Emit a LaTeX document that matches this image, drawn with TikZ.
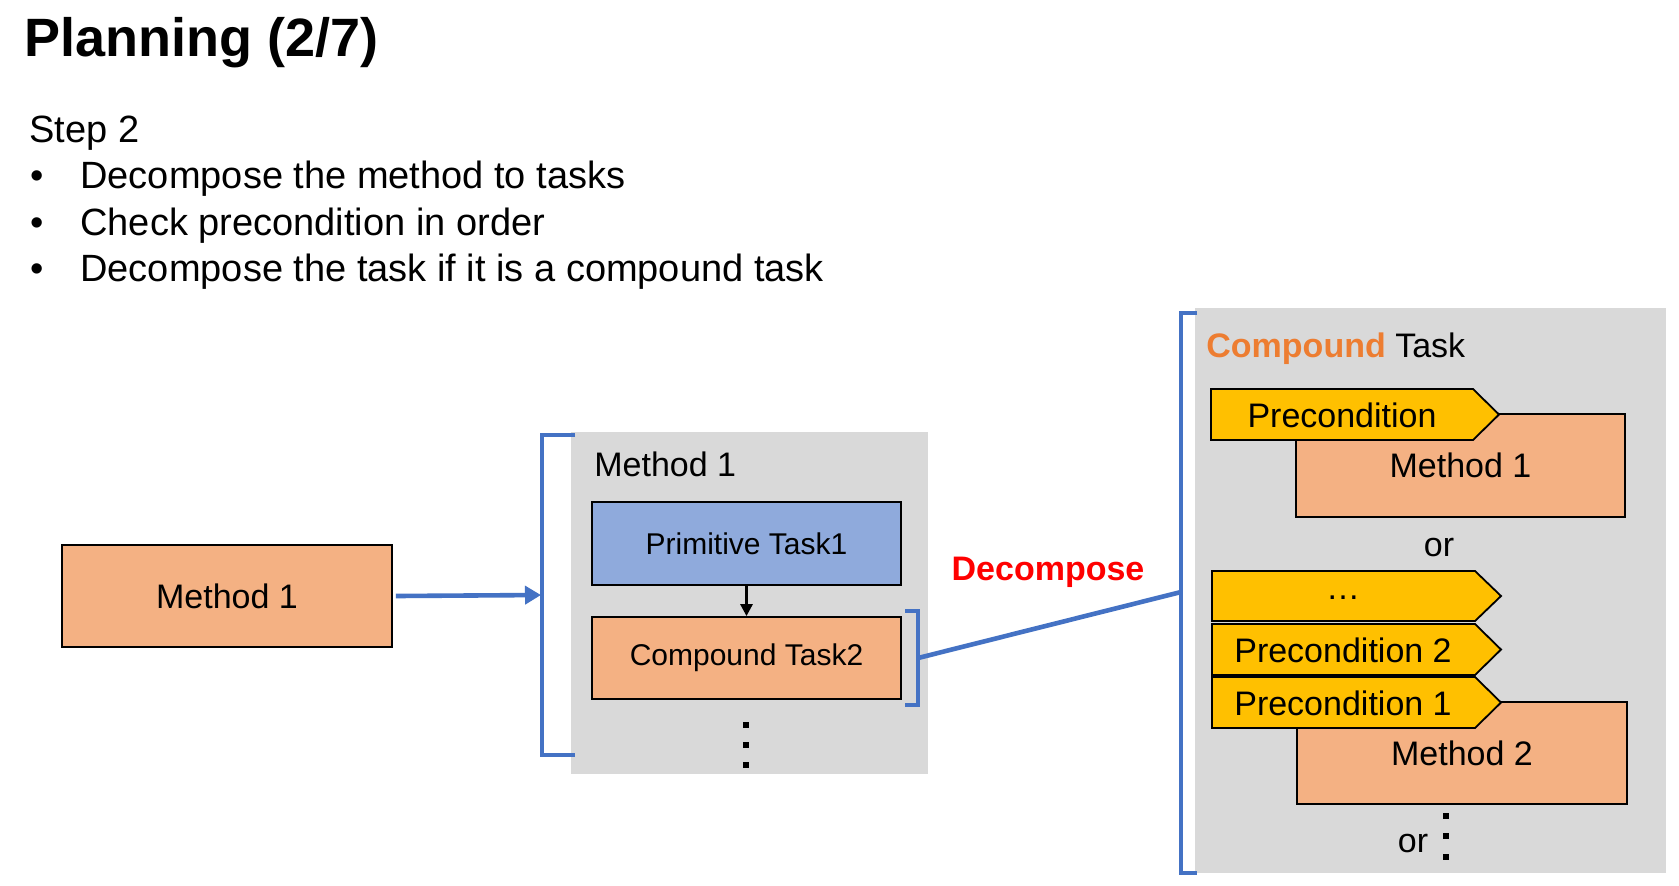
\documentclass[tikz,border=0pt]{standalone}
\usepackage{fontspec}
\setmainfont{Liberation Sans}
\usetikzlibrary{arrows.meta}
\definecolor{orfill}{HTML}{F4B183}
\definecolor{blfill}{HTML}{8FAADC}
\definecolor{gold}{HTML}{FFC000}
\definecolor{panel}{HTML}{D9D9D9}
\definecolor{lineblue}{HTML}{4472C4}
\definecolor{ortext}{HTML}{ED7D31}
\definecolor{redtext}{HTML}{FF0000}
\begin{document}
\begin{tikzpicture}[x=0.5pt,y=-0.5pt,
  box/.style={draw=black, line width=0.9pt, inner sep=0pt},
  boxtxt/.style={font=\fontsize{17pt}{20pt}\selectfont},
  smalltxt/.style={font=\fontsize{15pt}{18pt}\selectfont},
  bodytxt/.style={font=\fontsize{19pt}{23pt}\selectfont, anchor=base west, inner sep=0pt},
  pcond/.style={draw=black, line width=0.9pt, fill=gold, line join=miter},
  bracket/.style={draw=lineblue, line width=2.3pt},
  dotsq/.style={fill=black, inner sep=0pt, minimum size=2.6pt},
  panelbox/.style={fill=panel, draw=none, inner sep=0pt}]
\useasboundingbox (0,0) rectangle (1679,885);
\fill[white] (0,0) rectangle (1679,885);

% title and text
\node[anchor=base west, inner sep=0pt, font=\fontsize{27pt}{32pt}\selectfont\bfseries] (title) at (24,56) {Planning (2/7)};
\node[bodytxt] (step) at (29,142) {Step 2};
\node[bodytxt] (b1) at (30,188) {\textbullet};
\node[bodytxt] (t1) at (80,188) {Decompose the method to tasks};
\node[bodytxt] (b2) at (30,235) {\textbullet};
\node[bodytxt] (t2) at (80,235) {Check precondition in order};
\node[bodytxt] (b3) at (30,281) {\textbullet};
\node[bodytxt] (t3) at (80,281) {Decompose the task if it is a compound task};

% left method box
\node[box, fill=orfill, boxtxt, minimum width=165pt, minimum height=51pt] (m1) at (227,596) {Method 1};

% middle panel
\node[panelbox, minimum width=178.5pt, minimum height=171pt] (g1) at (749.5,603) {};
\coordinate (br1t) at (575,435);
\coordinate (br1b) at (575,755);
\draw[bracket] (br1t) -- (542,435) -- (542,755) -- (br1b);
\coordinate (br1m) at (541,595);
\draw[lineblue, line width=2.3pt, -{Triangle[length=8pt,width=9pt]}] (m1.east) ++(3,0) -- (br1m);
\node[boxtxt, anchor=base west, inner sep=0pt] (g1lab) at (594,476) {Method 1};
\node[box, fill=blfill, smalltxt, minimum width=154.5pt, minimum height=41.5pt] (prim) at (746.5,543.5) {Primitive Task1};
\node[box, fill=orfill, smalltxt, minimum width=154.5pt, minimum height=41pt] (comp) at (746.5,658) {\raisebox{-1.5pt}{Compound Task2}};
\draw[black, line width=1.4pt, -{Triangle[length=6pt,width=6pt]}] (prim.south) -- (comp.north);
\node[dotsq] (d1) at (746,725) {};
\node[dotsq] (d2) at (746,745) {};
\node[dotsq] (d3) at (746,765) {};

% small bracket and decompose line
\coordinate (br2m) at (918,658);
\draw[bracket] (905,611) -- (918,611) -- (918,705) -- (905,705);
\coordinate (br3m) at (1181,592);
\draw[lineblue, line width=2.3pt] (br2m) -- (br3m);
\node[font=\fontsize{17pt}{20pt}\selectfont\bfseries, text=redtext] (dec) at (1048,572) {Decompose};

% right panel
\node[panelbox, minimum width=235.5pt, minimum height=282.5pt] (g2) at (1430.5,590.5) {};
\draw[bracket] (1197,313) -- (1181,313) -- (1181,873) -- (1197,873);
\node[boxtxt, anchor=base west, inner sep=0pt] (ctitle) at (1206,357) {\textcolor{ortext}{\bfseries Compound} Task};

% method 1 (right) and its precondition
\node[box, fill=orfill, boxtxt, minimum width=164.5pt, minimum height=51.5pt] (rm1) at (1460.5,465.5) {Method 1};
\draw[pcond] (1211,389) -- (1473,389) -- (1499,414.5) -- (1473,440) -- (1211,440) -- cycle;
\node[boxtxt] (pc0) at (1342,415.5) {Precondition};

\node[boxtxt] (or1) at (1439,548) {or};

% method 2 and its preconditions
\node[box, fill=orfill, boxtxt, minimum width=165pt, minimum height=51pt] (rm2) at (1462,753) {Method 2};
\draw[pcond] (1212,571) -- (1475,571) -- (1501,596) -- (1475,621) -- (1212,621) -- cycle;
\node[boxtxt] (pcd) at (1343,598) {\dots};
\draw[pcond] (1212,624) -- (1475,624) -- (1501,649.5) -- (1475,675) -- (1212,675) -- cycle;
\node[boxtxt] (pc2) at (1343,650.5) {Precondition 2};
\draw[pcond] (1212,677) -- (1475,677) -- (1501,702.5) -- (1475,728) -- (1212,728) -- cycle;
\node[boxtxt] (pc1) at (1343,703.5) {Precondition 1};

\node[boxtxt] (or2) at (1413,843) {or};
\node[dotsq] (e1) at (1446,816) {};
\node[dotsq] (e2) at (1446,836) {};
\node[dotsq] (e3) at (1446,857) {};
\end{tikzpicture}
\end{document}
